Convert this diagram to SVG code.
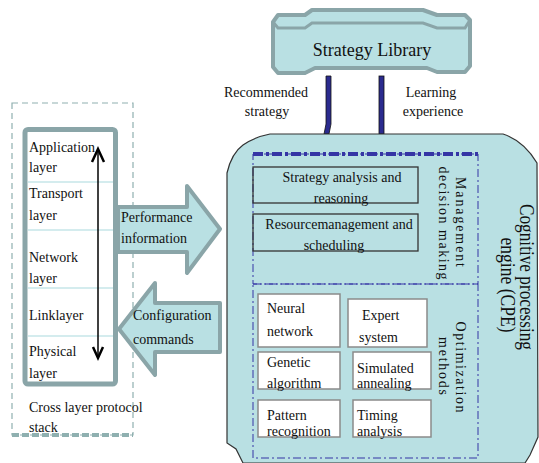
<svg xmlns="http://www.w3.org/2000/svg" width="539" height="463" viewBox="0 0 539 463">
<style>
text{font-family:"Liberation Serif","DejaVu Serif",serif;font-size:14px;fill:#111}
.big{font-size:18px}
.cpe{font-size:20px}
.teal{fill:#b9e0e3;stroke:#8aa5a8;stroke-width:4;stroke-linejoin:round}
.dd{fill:none;stroke:#3535a5;stroke-width:1;stroke-dasharray:8 3 2 3}
.mbox{fill:none;stroke:#333;stroke-width:1.3}
.obox{fill:#fff;stroke:#8a8a8a;stroke-width:1.5}
.sep{stroke:#a9d9dd;stroke-width:1}
.conn{fill:#2b2b8e;stroke:#111;stroke-width:0.8}
.mid{text-anchor:middle}
</style>

<g id="strategy-library">
<path class="teal" d="M273,22 L278,15 L305,15 L312,10 L423,10 L437,15 L465,15 L470,20 L470,66 L465,72 L437,72 L427,68 L315,68 L305,73 L278,73 L273,67 Z"/>
<path d="M273,22 L278,28 L305,28 L312,23 L423,23 L437,28 L465,28 L470,20" fill="none" stroke="#8aa5a8" stroke-width="3"/>
<text class="big mid" x="372" y="56">Strategy Library</text>
</g>

<g id="connectors">
<path class="conn" d="M326,76 L331,76 L331,124 L329,134 L324,134 L326,124 Z"/>
<rect class="conn" x="379" y="76" width="5" height="58"/>
<text class="mid" x="266" y="97">Recommended</text>
<text class="mid" x="267" y="116">strategy</text>
<text class="mid" x="431" y="97">Learning</text>
<text class="mid" x="433" y="116">experience</text>
</g>

<g id="protocol-stack">
<rect x="12" y="103" width="121" height="332" fill="none" stroke="#8fb0b0" stroke-width="1.2" stroke-dasharray="6 4"/>
<line x1="12" y1="435" x2="133" y2="435" stroke="#8fb0b0" stroke-width="4" stroke-dasharray="7 3"/>
<rect x="25" y="129.5" width="90.5" height="254.5" rx="3" fill="#fff" stroke="#8aa5a8" stroke-width="5"/>
<line class="sep" x1="28" y1="182" x2="113" y2="182"/>
<line class="sep" x1="28" y1="230" x2="113" y2="230"/>
<line class="sep" x1="28" y1="288" x2="113" y2="288"/>
<line class="sep" x1="28" y1="336" x2="113" y2="336"/>
<text x="29" y="152">Application</text>
<text x="29" y="172">layer</text>
<text x="29" y="198">Transport</text>
<text x="29" y="220">layer</text>
<text x="29" y="262">Network</text>
<text x="29" y="283">layer</text>
<text x="29" y="320">Linklayer</text>
<text x="29" y="356">Physical</text>
<text x="29" y="378">layer</text>
<line x1="98" y1="150" x2="98" y2="356" stroke="#000" stroke-width="1.5"/>
<path d="M92,162 L98,149 L104,162" fill="none" stroke="#000" stroke-width="2.5"/>
<path d="M93,347 L98,358 L103,347" fill="none" stroke="#000" stroke-width="2.5"/>
<text x="29" y="412">Cross layer protocol</text>
<text x="29" y="432">stack</text>
</g>

<g id="performance-arrow">
<path class="teal" d="M118,207 L187,207 L187,186 L220,229 L187,273 L187,252 L118,252 Z"/>
<text x="121" y="222">Performance</text>
<text x="121" y="243">information</text>
</g>

<g id="configuration-arrow">
<path class="teal" d="M220,303 L155,303 L155,283 L119,329 L155,375 L155,352 L220,352 Z"/>
<text x="133" y="320">Configuration</text>
<text x="133" y="344">commands</text>
</g>

<g id="cpe">
<path d="M270,134 L503,134 C515,138 528,148 537,163 L538,437 L530,455 L525,463 L243,463 L236,449 L227,443 L227,173 C230,160 236,150 243,145 C250,140 260,136 270,134 Z" fill="#b9e0e3" stroke="#333" stroke-width="1.2"/>
<text class="cpe mid" transform="translate(520,277) rotate(90)" textLength="146" lengthAdjust="spacingAndGlyphs">Cognitive processing</text>
<text class="cpe mid" transform="translate(501,285) rotate(90)" textLength="95" lengthAdjust="spacingAndGlyphs">engine (CPE)</text>
</g>

<g id="management">
<rect class="dd" x="253" y="154" width="225" height="130"/>
<line x1="253" y1="154" x2="478" y2="154" stroke="#3535a5" stroke-width="4" stroke-dasharray="10 3 3 3"/>
<rect class="mbox" x="253" y="167" width="165" height="36"/>
<text class="mid" x="342" y="182">Strategy analysis and</text>
<text class="mid" x="341" y="203">reasoning</text>
<rect class="mbox" x="253" y="214" width="165" height="37"/>
<text class="mid" x="339" y="229">Resourcemanagement and</text>
<text class="mid" x="334" y="250">scheduling</text>
<text class="mid" transform="translate(456,222) rotate(90)" textLength="90">Management</text>
<text class="mid" transform="translate(439,223) rotate(90)" textLength="113">decision making</text>
</g>

<g id="optimization">
<rect class="dd" x="253" y="284" width="225" height="174"/>
<text class="mid" transform="translate(456,367) rotate(90)" textLength="91">Optimization</text>
<text class="mid" transform="translate(439,366) rotate(90)" textLength="58">methods</text>
</g>

<g id="neural-network">
<rect class="obox" x="258" y="294" width="82" height="53"/>
<text x="267" y="313">Neural</text>
<text x="267" y="336">network</text>
</g>
<g id="expert-system">
<rect class="obox" x="348" y="299" width="79" height="48"/>
<text x="362" y="320">Expert</text>
<text x="359" y="342">system</text>
</g>
<g id="genetic-algorithm">
<rect class="obox" x="258" y="352" width="82" height="37"/>
<text x="267" y="367">Genetic</text>
<text x="267" y="388">algorithm</text>
</g>
<g id="simulated-annealing">
<rect class="obox" x="353" y="352" width="78" height="37"/>
<text x="357" y="373">Simulated</text>
<text x="357" y="388">annealing</text>
</g>
<g id="pattern-recognition">
<rect class="obox" x="258" y="400" width="82" height="37"/>
<text x="267" y="420">Pattern</text>
<text x="267" y="436">recognition</text>
</g>
<g id="timing-analysis">
<rect class="obox" x="353" y="400" width="78" height="37"/>
<text x="357" y="420">Timing</text>
<text x="357" y="436">analysis</text>
</g>
</svg>
